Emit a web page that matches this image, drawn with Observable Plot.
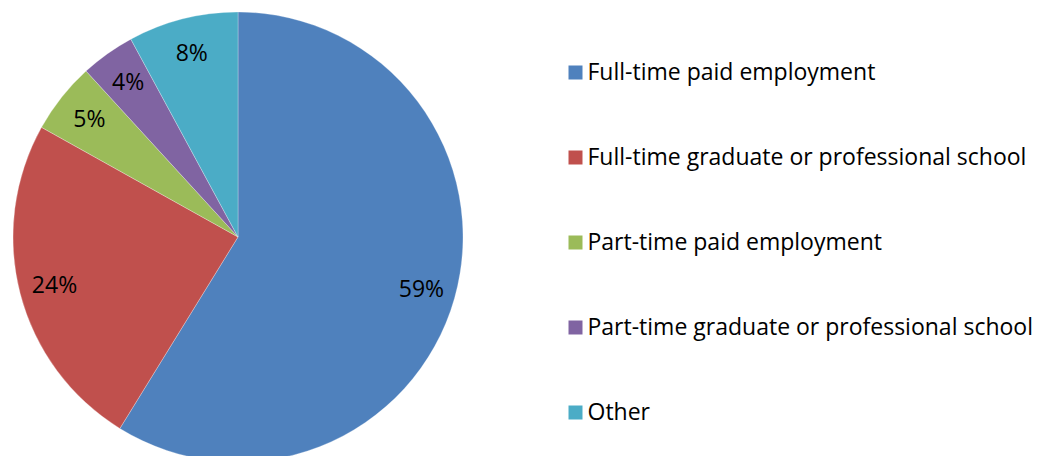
<!DOCTYPE html>
<html>
<head>
<meta charset="utf-8">
<script src="https://cdn.jsdelivr.net/npm/d3@7"></script>
<script src="https://cdn.jsdelivr.net/npm/@observablehq/plot@0.6"></script>
<style>
  html, body { margin: 0; padding: 0; background: #fff; }
  #wrap { display: flex; flex-direction: row; width: 1042px; height: 456px; overflow: hidden; }
  svg { font-family: "Open Sans", sans-serif; }
</style>
</head>
<body>
<div id="wrap"></div>
<script>
// ---- data ----
const categories = [
  "Full-time paid employment",
  "Full-time graduate or professional school",
  "Part-time paid employment",
  "Part-time graduate or professional school",
  "Other"
];
const shares = [58.8, 24.3, 5.1, 3.9, 7.9];
const labels = ["59%", "24%", "5%", "4%", "8%"];
const colors = ["#4F81BD", "#C0504D", "#9BBB59", "#8064A2", "#4BACC6"];

const color = Plot.scale({color: {type: "ordinal", domain: categories, range: colors}});

const rows = categories.map((c, i) => ({category: c, share: shares[i], label: labels[i]}));

// pie geometry (in unit-circle data coordinates)
const arcs = d3.pie().sort(null).value(d => d.share)(rows);
const labelRadius = 0.845;
const labelData = arcs.map(a => {
  const mid = (a.startAngle + a.endAngle) / 2;
  return {label: a.data.label, x: labelRadius * Math.sin(mid), y: labelRadius * Math.cos(mid)};
});

function pieMark(index, scales, values, dimensions) {
  const sx = scales.x, sy = scales.y;
  const cx = sx(0), cy = sy(0);
  const R = sx(1) - sx(0);
  const arc = d3.arc().innerRadius(0).outerRadius(R);
  const g = d3.create("svg:g").attr("transform", `translate(${cx},${cy})`);
  g.selectAll("path")
    .data(arcs)
    .join("path")
    .attr("d", arc)
    .attr("fill", d => color.apply(d.data.category))
    .attr("stroke", "#ffffff")
    .attr("stroke-opacity", 0.45)
    .attr("stroke-width", 0.6);
  return g.node();
}

const pie = Plot.plot({
  width: 480,
  height: 456,
  marginLeft: 13,
  marginRight: 17,
  marginTop: 12,
  marginBottom: 0,
  x: {domain: [-1, 1], axis: null},
  y: {domain: [-(456 - 237) / 225, 1], axis: null},
  marks: [
    pieMark,
    Plot.text(labelData, {x: "x", y: "y", text: "label", fontSize: 23, fill: "#000"})
  ]
});

const legend = Plot.plot({
  width: 562,
  height: 456,
  marginLeft: 95,
  marginRight: 0,
  marginTop: 27,
  marginBottom: 0,
  y: {type: "point", domain: categories, axis: null, padding: 0.5},
  x: {axis: null},
  marks: [
    Plot.dot(categories, {y: d => d, frameAnchor: "left", symbol: "square", r: 7.9, fill: d => color.apply(d), stroke: null}),
    Plot.text(categories, {y: d => d, frameAnchor: "left", text: d => d, dx: 12, textAnchor: "start", fontSize: 23, fill: "#000"})
  ]
});

const wrap = document.getElementById("wrap");
wrap.appendChild(pie);
wrap.appendChild(legend);
</script>
</body>
</html>
